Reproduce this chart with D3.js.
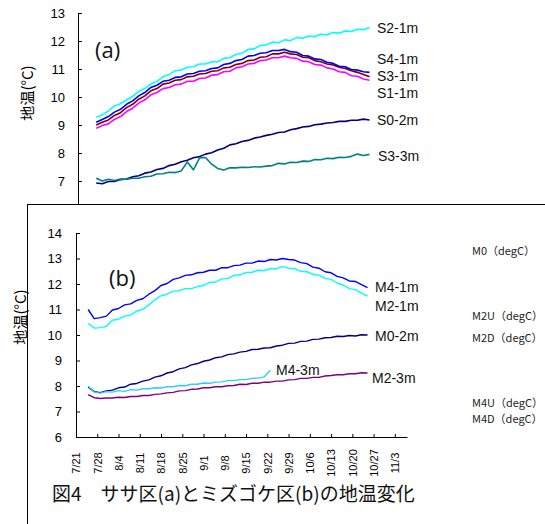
<!DOCTYPE html>
<html>
<head>
<meta charset="utf-8">
<script src="https://cdn.jsdelivr.net/npm/d3@7"></script>
<style>
  body { margin: 0; background: #fff; }
  svg { display: block; }
</style>
</head>
<body>
<svg id="chart" width="545" height="524"></svg>
<script>
// ---- Tick labels (dates, one per week from 7/21) ----
const tickDays = [0, 7, 14, 21, 28, 35, 42, 49, 56, 63, 70, 77, 84, 91, 98, 105];
const tickDates = ["7/21", "7/28", "8/4", "8/11", "8/18", "8/25", "9/1", "9/8",
                   "9/15", "9/22", "9/29", "10/6", "10/13", "10/20", "10/27", "11/3"];
const yTicksA = [7, 8, 9, 10, 11, 12, 13];
const yTicksB = [6, 7, 8, 9, 10, 11, 12, 13, 14];

// ---- Sampling days (days after 7/21) ----
const daysA = [6, 8, 10, 12, 14, 16, 18, 20, 22, 24, 26, 28, 30, 32, 34, 36, 38, 40, 42, 44,
               46, 48, 50, 52, 54, 56, 58, 60, 62, 64, 66, 68, 70, 72, 74, 76, 78, 80, 82, 84,
               86, 88, 90, 92, 94, 96];
const daysB = [4, 6, 8, 10, 12, 14, 16, 18, 20, 22, 24, 26, 28, 30, 32, 34, 36, 38, 40, 42,
               44, 46, 48, 50, 52, 54, 56, 58, 60, 62, 64, 66, 68, 70, 72, 74, 76, 78, 80, 82,
               84, 86, 88, 90, 92, 94, 96];

// ---- (a) ササ区 soil temperature, degC ----
const s2_1m = [9.28, 9.36, 9.50, 9.68, 9.76, 9.90, 10.02, 10.20, 10.30, 10.46,
               10.56, 10.72, 10.80, 10.94, 10.96, 11.06, 11.08, 11.18, 11.18, 11.26,
               11.26, 11.38, 11.40, 11.52, 11.56, 11.70, 11.72, 11.84, 11.86, 11.96,
               11.94, 12.04, 12.02, 12.12, 12.10, 12.18, 12.16, 12.24, 12.22, 12.30,
               12.28, 12.36, 12.34, 12.42, 12.40, 12.48];
const s4_1m = [9.10, 9.20, 9.30, 9.46, 9.56, 9.74, 9.86, 10.04, 10.16, 10.34,
               10.42, 10.56, 10.60, 10.70, 10.72, 10.82, 10.84, 10.92, 10.94, 11.02,
               11.04, 11.16, 11.20, 11.30, 11.34, 11.46, 11.48, 11.56, 11.58, 11.66,
               11.66, 11.70, 11.62, 11.60, 11.48, 11.46, 11.36, 11.34, 11.24, 11.20,
               11.10, 11.08, 10.98, 10.96, 10.90, 10.88];
const s3_1m = [9.00, 9.10, 9.18, 9.34, 9.44, 9.62, 9.74, 9.92, 10.04, 10.22,
               10.30, 10.46, 10.50, 10.60, 10.62, 10.72, 10.74, 10.82, 10.84, 10.92,
               10.94, 11.04, 11.06, 11.16, 11.20, 11.30, 11.32, 11.42, 11.44, 11.54,
               11.54, 11.60, 11.54, 11.52, 11.42, 11.40, 11.30, 11.26, 11.18, 11.14,
               11.06, 11.02, 10.94, 10.88, 10.80, 10.72];
const s1_1m = [8.88, 8.98, 9.04, 9.20, 9.30, 9.48, 9.60, 9.78, 9.90, 10.08,
               10.16, 10.30, 10.34, 10.44, 10.46, 10.56, 10.56, 10.66, 10.68, 10.78,
               10.80, 10.90, 10.92, 11.04, 11.08, 11.18, 11.20, 11.30, 11.32, 11.40,
               11.40, 11.46, 11.40, 11.38, 11.28, 11.26, 11.16, 11.14, 11.04, 11.00,
               10.90, 10.88, 10.76, 10.74, 10.64, 10.60];
const s0_2m = [6.93, 6.90, 6.98, 6.98, 7.05, 7.07, 7.15, 7.19, 7.28, 7.32,
               7.41, 7.45, 7.55, 7.60, 7.69, 7.74, 7.83, 7.87, 7.96, 8.01,
               8.11, 8.17, 8.29, 8.33, 8.41, 8.45, 8.53, 8.57, 8.63, 8.67,
               8.73, 8.75, 8.83, 8.87, 8.93, 8.95, 9.01, 9.03, 9.07, 9.09,
               9.13, 9.13, 9.17, 9.17, 9.21, 9.18];
const s3_3m = [7.10, 7.00, 7.06, 7.02, 7.07, 7.06, 7.10, 7.10, 7.15, 7.17,
               7.25, 7.26, 7.31, 7.30, 7.36, 7.68, 7.40, 7.82, 7.84, 7.60,
               7.45, 7.39, 7.47, 7.47, 7.49, 7.48, 7.51, 7.50, 7.53, 7.55,
               7.63, 7.61, 7.67, 7.66, 7.71, 7.70, 7.77, 7.76, 7.81, 7.80,
               7.85, 7.84, 7.88, 7.96, 7.91, 7.95];

// ---- (b) ミズゴケ区 soil temperature, degC ----
const m4_1m = [11.00, 10.64, 10.68, 10.74, 10.98, 11.04, 11.18, 11.22, 11.36, 11.42,
               11.60, 11.74, 11.94, 12.02, 12.18, 12.24, 12.34, 12.36, 12.44, 12.46,
               12.54, 12.54, 12.64, 12.64, 12.72, 12.74, 12.82, 12.82, 12.90, 12.88,
               12.96, 12.94, 13.00, 12.96, 12.94, 12.84, 12.80, 12.66, 12.62, 12.48,
               12.44, 12.30, 12.24, 12.12, 12.10, 11.98, 11.86];
const m2_1m = [10.46, 10.27, 10.29, 10.34, 10.58, 10.62, 10.74, 10.78, 10.94, 11.00,
               11.18, 11.38, 11.54, 11.60, 11.72, 11.74, 11.82, 11.82, 11.90, 11.94,
               12.06, 12.08, 12.20, 12.22, 12.34, 12.36, 12.45, 12.46, 12.54, 12.53,
               12.60, 12.60, 12.68, 12.62, 12.60, 12.50, 12.48, 12.38, 12.34, 12.22,
               12.18, 12.04, 11.96, 11.82, 11.78, 11.64, 11.52];
const m0_2m = [7.96, 7.78, 7.74, 7.81, 7.84, 7.93, 7.96, 8.07, 8.10, 8.19,
               8.24, 8.35, 8.40, 8.51, 8.56, 8.67, 8.72, 8.83, 8.88, 8.97,
               9.02, 9.11, 9.14, 9.23, 9.26, 9.33, 9.36, 9.43, 9.44, 9.49,
               9.50, 9.57, 9.60, 9.67, 9.68, 9.75, 9.76, 9.83, 9.84, 9.89,
               9.90, 9.95, 9.94, 9.98, 9.96, 10.01, 10.00];
const m4_3m = [8.00, 7.76, 7.72, 7.78, 7.76, 7.82, 7.79, 7.86, 7.84, 7.89,
               7.89, 7.93, 7.92, 7.97, 7.97, 8.02, 8.01, 8.07, 8.07, 8.12,
               8.11, 8.15, 8.16, 8.21, 8.21, 8.25, 8.25, 8.30, 8.31, 8.36,
               8.62];
const m2_3m = [7.66, 7.54, 7.51, 7.53, 7.53, 7.56, 7.55, 7.59, 7.59, 7.63,
               7.63, 7.67, 7.69, 7.73, 7.75, 7.81, 7.82, 7.87, 7.88, 7.93,
               7.93, 7.97, 7.97, 8.01, 8.02, 8.07, 8.06, 8.11, 8.11, 8.15,
               8.15, 8.19, 8.19, 8.24, 8.25, 8.30, 8.30, 8.34, 8.34, 8.39,
               8.41, 8.44, 8.44, 8.48, 8.48, 8.52, 8.51];

const seriesA = [
  { name: "S2-1m", values: s2_1m, color: "#00FFFF", lx: 377, ly: 33 },
  { name: "S0-2m", values: s0_2m, color: "#000080", lx: 377, ly: 125 },
  { name: "S3-3m", values: s3_3m, color: "#008080", lx: 378, ly: 161 },
  { name: "S1-1m", values: s1_1m, color: "#FF00FF", lx: 377, ly: 98 },
  { name: "S3-1m", values: s3_1m, color: "#800000", lx: 377, ly: 81 },
  { name: "S4-1m", values: s4_1m, color: "#0000FF", lx: 377, ly: 64 }
];
const seriesB = [
  { name: "M2-3m", values: m2_3m, color: "#800080", lx: 372, ly: 383 },
  { name: "M0-2m", values: m0_2m, color: "#000080", lx: 375, ly: 341 },
  { name: "M4-3m", values: m4_3m, color: "#33CCFF", lx: 276, ly: 375 },
  { name: "M2-1m", values: m2_1m, color: "#00FFFF", lx: 375, ly: 311 },
  { name: "M4-1m", values: m4_1m, color: "#0000FF", lx: 375, ly: 292 }
];
const sensorNames = [
  { text: "M0（degC）", y: 255 },
  { text: "M2U（degC）", y: 320 },
  { text: "M2D（degC）", y: 342 },
  { text: "M4U（degC）", y: 407 },
  { text: "M4D（degC）", y: 423 }
];

const svg = d3.select("#chart");
const tickFont = "'Liberation Sans', Arial, sans-serif";
const jpFont = "'Noto Sans CJK JP', sans-serif";
const labelFont = "'Liberation Sans', Arial, sans-serif";

function drawLines(g, series, days, x, y, width) {
  series.forEach(s => {
    const pts = s.values.map((v, i) => [days[i], v]).filter(p => p[0] !== undefined);
    g.append("path")
      .datum(pts)
      .attr("fill", "none")
      .attr("stroke", s.color)
      .attr("stroke-width", width)
      .attr("stroke-linejoin", "round")
      .attr("d", d3.line().x(p => x(p[0])).y(p => y(p[1])));
  });
  series.forEach(s => {
    g.append("text")
      .attr("x", s.lx).attr("y", s.ly)
      .attr("font-family", labelFont)
      .attr("font-size", 14)
      .attr("fill", "#111")
      .text(s.name);
  });
}

function styleAxis(g) {
  g.select(".domain").attr("stroke", "#000").attr("stroke-width", 1);
  g.selectAll(".tick line").attr("stroke", "#000");
  g.selectAll(".tick text")
    .attr("font-family", tickFont)
    .attr("font-size", 13)
    .attr("fill", "#000");
}

// ---- panel (a) ----
const xA = d3.scaleLinear().domain([0, 109]).range([78, 409]);
const yA = d3.scaleLinear().domain([6, 13]).range([209, 13]);
const gA = svg.append("g");

gA.append("g")
  .attr("transform", `translate(${xA(0)},0)`)
  .call(d3.axisLeft(yA).tickValues(yTicksA).tickFormat(d3.format("d"))
        .tickSizeInner(-4).tickSizeOuter(0).tickPadding(13))
  .call(styleAxis);

drawLines(gA, seriesA, daysA, xA, yA, 1.6);

gA.append("text")
  .attr("x", 95).attr("y", 58)
  .attr("font-family", "'Open Sans', sans-serif").attr("font-size", 22).attr("fill", "#111")
  .text("(a)");

gA.append("text")
  .attr("transform", "translate(28,93) rotate(-90)")
  .attr("text-anchor", "middle").attr("dy", "0.35em")
  .attr("font-family", jpFont).attr("font-size", 15).attr("fill", "#000")
  .text("地温(°C)");

// ---- panel (b): framed chart placed over the lower part ----
svg.append("rect")
  .attr("x", 27.5).attr("y", 204.5)
  .attr("width", 600).attr("height", 400)
  .attr("fill", "#fff").attr("stroke", "#000").attr("stroke-width", 1);

const xB = d3.scaleLinear().domain([0, 109]).range([76, 407]);
const yB = d3.scaleLinear().domain([6, 14]).range([437, 233]);
const gB = svg.append("g");

gB.append("g")
  .attr("transform", `translate(${xB(0)},0)`)
  .call(d3.axisLeft(yB).tickValues(yTicksB).tickFormat(d3.format("d"))
        .tickSizeInner(-4).tickSizeOuter(0).tickPadding(14))
  .call(styleAxis);

gB.append("g")
  .attr("transform", `translate(0,${yB(6)})`)
  .call(d3.axisBottom(xB).tickValues(tickDays).tickSizeInner(-3).tickSizeOuter(0)
        .tickFormat((d, i) => tickDates[i]))
  .call(g => {
    styleAxis(g);
    g.selectAll(".tick text")
      .attr("y", null).attr("dy", "0.35em")
      .attr("font-size", 11)
      .attr("text-anchor", "middle")
      .attr("transform", "translate(0,26) rotate(-90)");
  });

drawLines(gB, seriesB, daysB, xB, yB, 1.4);

gB.append("text")
  .attr("x", 109).attr("y", 286)
  .attr("font-family", "'Open Sans', sans-serif").attr("font-size", 22).attr("fill", "#111")
  .text("(b)");

gB.append("text")
  .attr("transform", "translate(21,317) rotate(-90)")
  .attr("text-anchor", "middle").attr("dy", "0.35em")
  .attr("font-family", jpFont).attr("font-size", 15).attr("fill", "#000")
  .text("地温(°C)");

gB.selectAll("text.sensor")
  .data(sensorNames)
  .join("text")
  .attr("class", "sensor")
  .attr("x", 472).attr("y", d => d.y)
  .attr("font-family", jpFont).attr("font-size", 11).attr("fill", "#222")
  .text(d => d.text);

// ---- caption ----
svg.append("text")
  .attr("x", 52).attr("y", 501)
  .attr("font-family", jpFont).attr("font-size", 19).attr("fill", "#111")
  .text("図4　ササ区(a)とミズゴケ区(b)の地温変化");
</script>
</body>
</html>
